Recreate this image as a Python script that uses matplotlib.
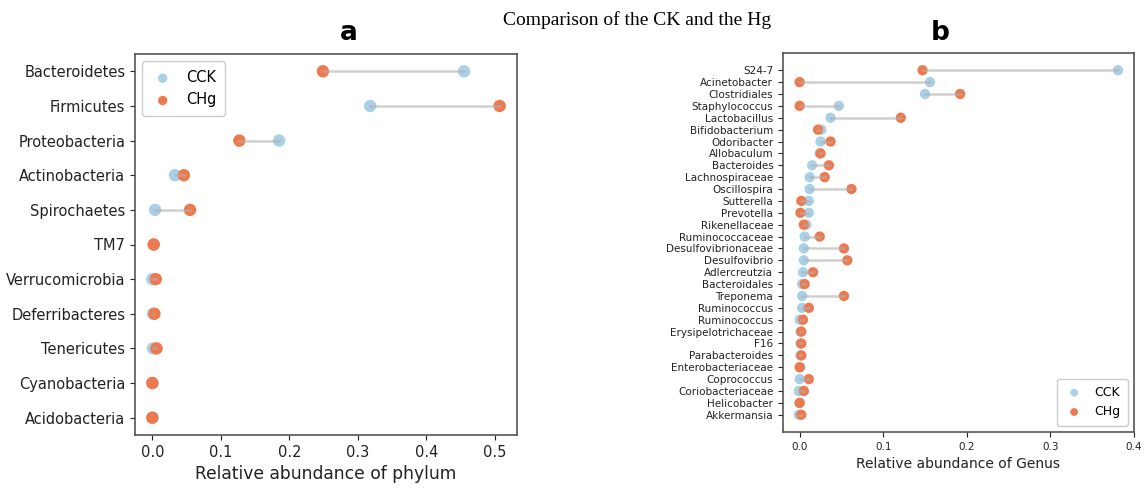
import matplotlib
matplotlib.use("Agg")
import matplotlib.pyplot as plt
import numpy as np

# ---------------- data ----------------
phyla = ["Bacteroidetes", "Firmicutes", "Proteobacteria", "Actinobacteria",
         "Spirochaetes", "TM7", "Verrucomicrobia", "Deferribacteres",
         "Tenericutes", "Cyanobacteria", "Acidobacteria"]
phyla_cck = [0.455, 0.318, 0.185, 0.033, 0.004, 0.002, 0.000, 0.001, 0.001, 0.000, 0.000]
phyla_chg = [0.249, 0.507, 0.127, 0.046, 0.055, 0.002, 0.005, 0.003, 0.006, 0.000, 0.000]

genera = ["S24-7", "Acinetobacter", "Clostridiales", "Staphylococcus", "Lactobacillus",
          "Bifidobacterium", "Odoribacter", "Allobaculum", "Bacteroides", "Lachnospiraceae",
          "Oscillospira", "Sutterella", "Prevotella", "Rikenellaceae", "Ruminococcaceae",
          "Desulfovibrionaceae", "Desulfovibrio", "Adlercreutzia", "Bacteroidales", "Treponema",
          "Ruminococcus", "Ruminococcus", "Erysipelotrichaceae", "F16", "Parabacteroides",
          "Enterobacteriaceae", "Coprococcus", "Coriobacteriaceae", "Helicobacter", "Akkermansia"]
genus_cck = [0.381, 0.156, 0.150, 0.047, 0.037, 0.026, 0.025, 0.024, 0.015, 0.012,
             0.012, 0.011, 0.011, 0.008, 0.006, 0.005, 0.005, 0.004, 0.003, 0.003,
             0.003, 0.000, 0.001, 0.001, 0.001, 0.001, 0.000, -0.001, 0.000, -0.001]
genus_chg = [0.147, 0.000, 0.192, 0.000, 0.121, 0.022, 0.037, 0.025, 0.035, 0.030,
             0.062, 0.002, 0.001, 0.005, 0.024, 0.053, 0.057, 0.016, 0.006, 0.053,
             0.011, 0.004, 0.002, 0.002, 0.002, 0.000, 0.011, 0.005, 0.000, 0.002]

series_names = ["CCK", "CHg"]
suptitle = "Comparison of the CK and the Hg"

# ---------------- style ----------------
C_CCK = "#a9d0e6"
C_CHG = "#ec7a4e"
LINE = "#b0b0b0"

fig = plt.figure(figsize=(11.48, 4.92), dpi=100)
W, H = 1148, 492

def ax_at(x0, y0, x1, y1):
    return fig.add_axes([x0 / W, 1 - y1 / H, (x1 - x0) / W, (y1 - y0) / H])

def dumbbell(ax, cats, a, b, size, lfs, tfs, legfs, xlabel, legloc):
    n = len(cats)
    y = np.arange(n)[::-1]
    ax.scatter(a, y, s=size, color=C_CCK, label=series_names[0], zorder=2, edgecolors="none")
    ax.scatter(b, y, s=size, color=C_CHG, label=series_names[1], zorder=2, edgecolors="none")
    for yi, ai, bi in zip(y, a, b):
        ax.plot([ai, bi], [yi, yi], color=LINE, lw=1.8, alpha=0.6, zorder=3)
    ax.set_yticks(y)
    ax.set_yticklabels(cats, fontsize=tfs, color="#222222")
    ax.tick_params(axis="x", labelsize=tfs, colors="#222222")
    ax.tick_params(axis="y", colors="#222222")
    ax.set_xlabel(xlabel, fontsize=lfs, color="#222222")
    for s in ax.spines.values():
        s.set_color("#555555")
        s.set_linewidth(1.2)
    leg = ax.legend(loc=legloc, fontsize=legfs, markerscale=0.75, handletextpad=0.8,
                    handlelength=1.6, borderpad=0.6, framealpha=1)
    leg.get_frame().set_edgecolor("#cccccc")
    return ax

axa = ax_at(135, 54, 517, 435)
dumbbell(axa, phyla, phyla_cck, phyla_chg, 80, 12.3, 10.5, 10.5,
         "Relative abundance of phylum", "upper left")
axa.set_xticks([0.0, 0.1, 0.2, 0.3, 0.4, 0.5])

axb = ax_at(783, 53, 1134, 432)
dumbbell(axb, genera, genus_cck, genus_chg, 55, 10, 7.5, 9,
         "Relative abundance of Genus", "lower right")
axb.set_xticks([0.0, 0.1, 0.2, 0.3, 0.4])
axb.set_xlim(-0.0199, 0.4)

fig.text(349 / W, 1 - 33 / H, "a", fontsize=19, fontweight="bold", ha="center", va="center")
fig.text(940 / W, 1 - 33 / H, "b", fontsize=19, fontweight="bold", ha="center", va="center")
fig.text(637 / W, 1 - 20 / H, suptitle, fontsize=14, family="Liberation Serif",
         ha="center", va="center")

fig.savefig("out.png", dpi=100)
